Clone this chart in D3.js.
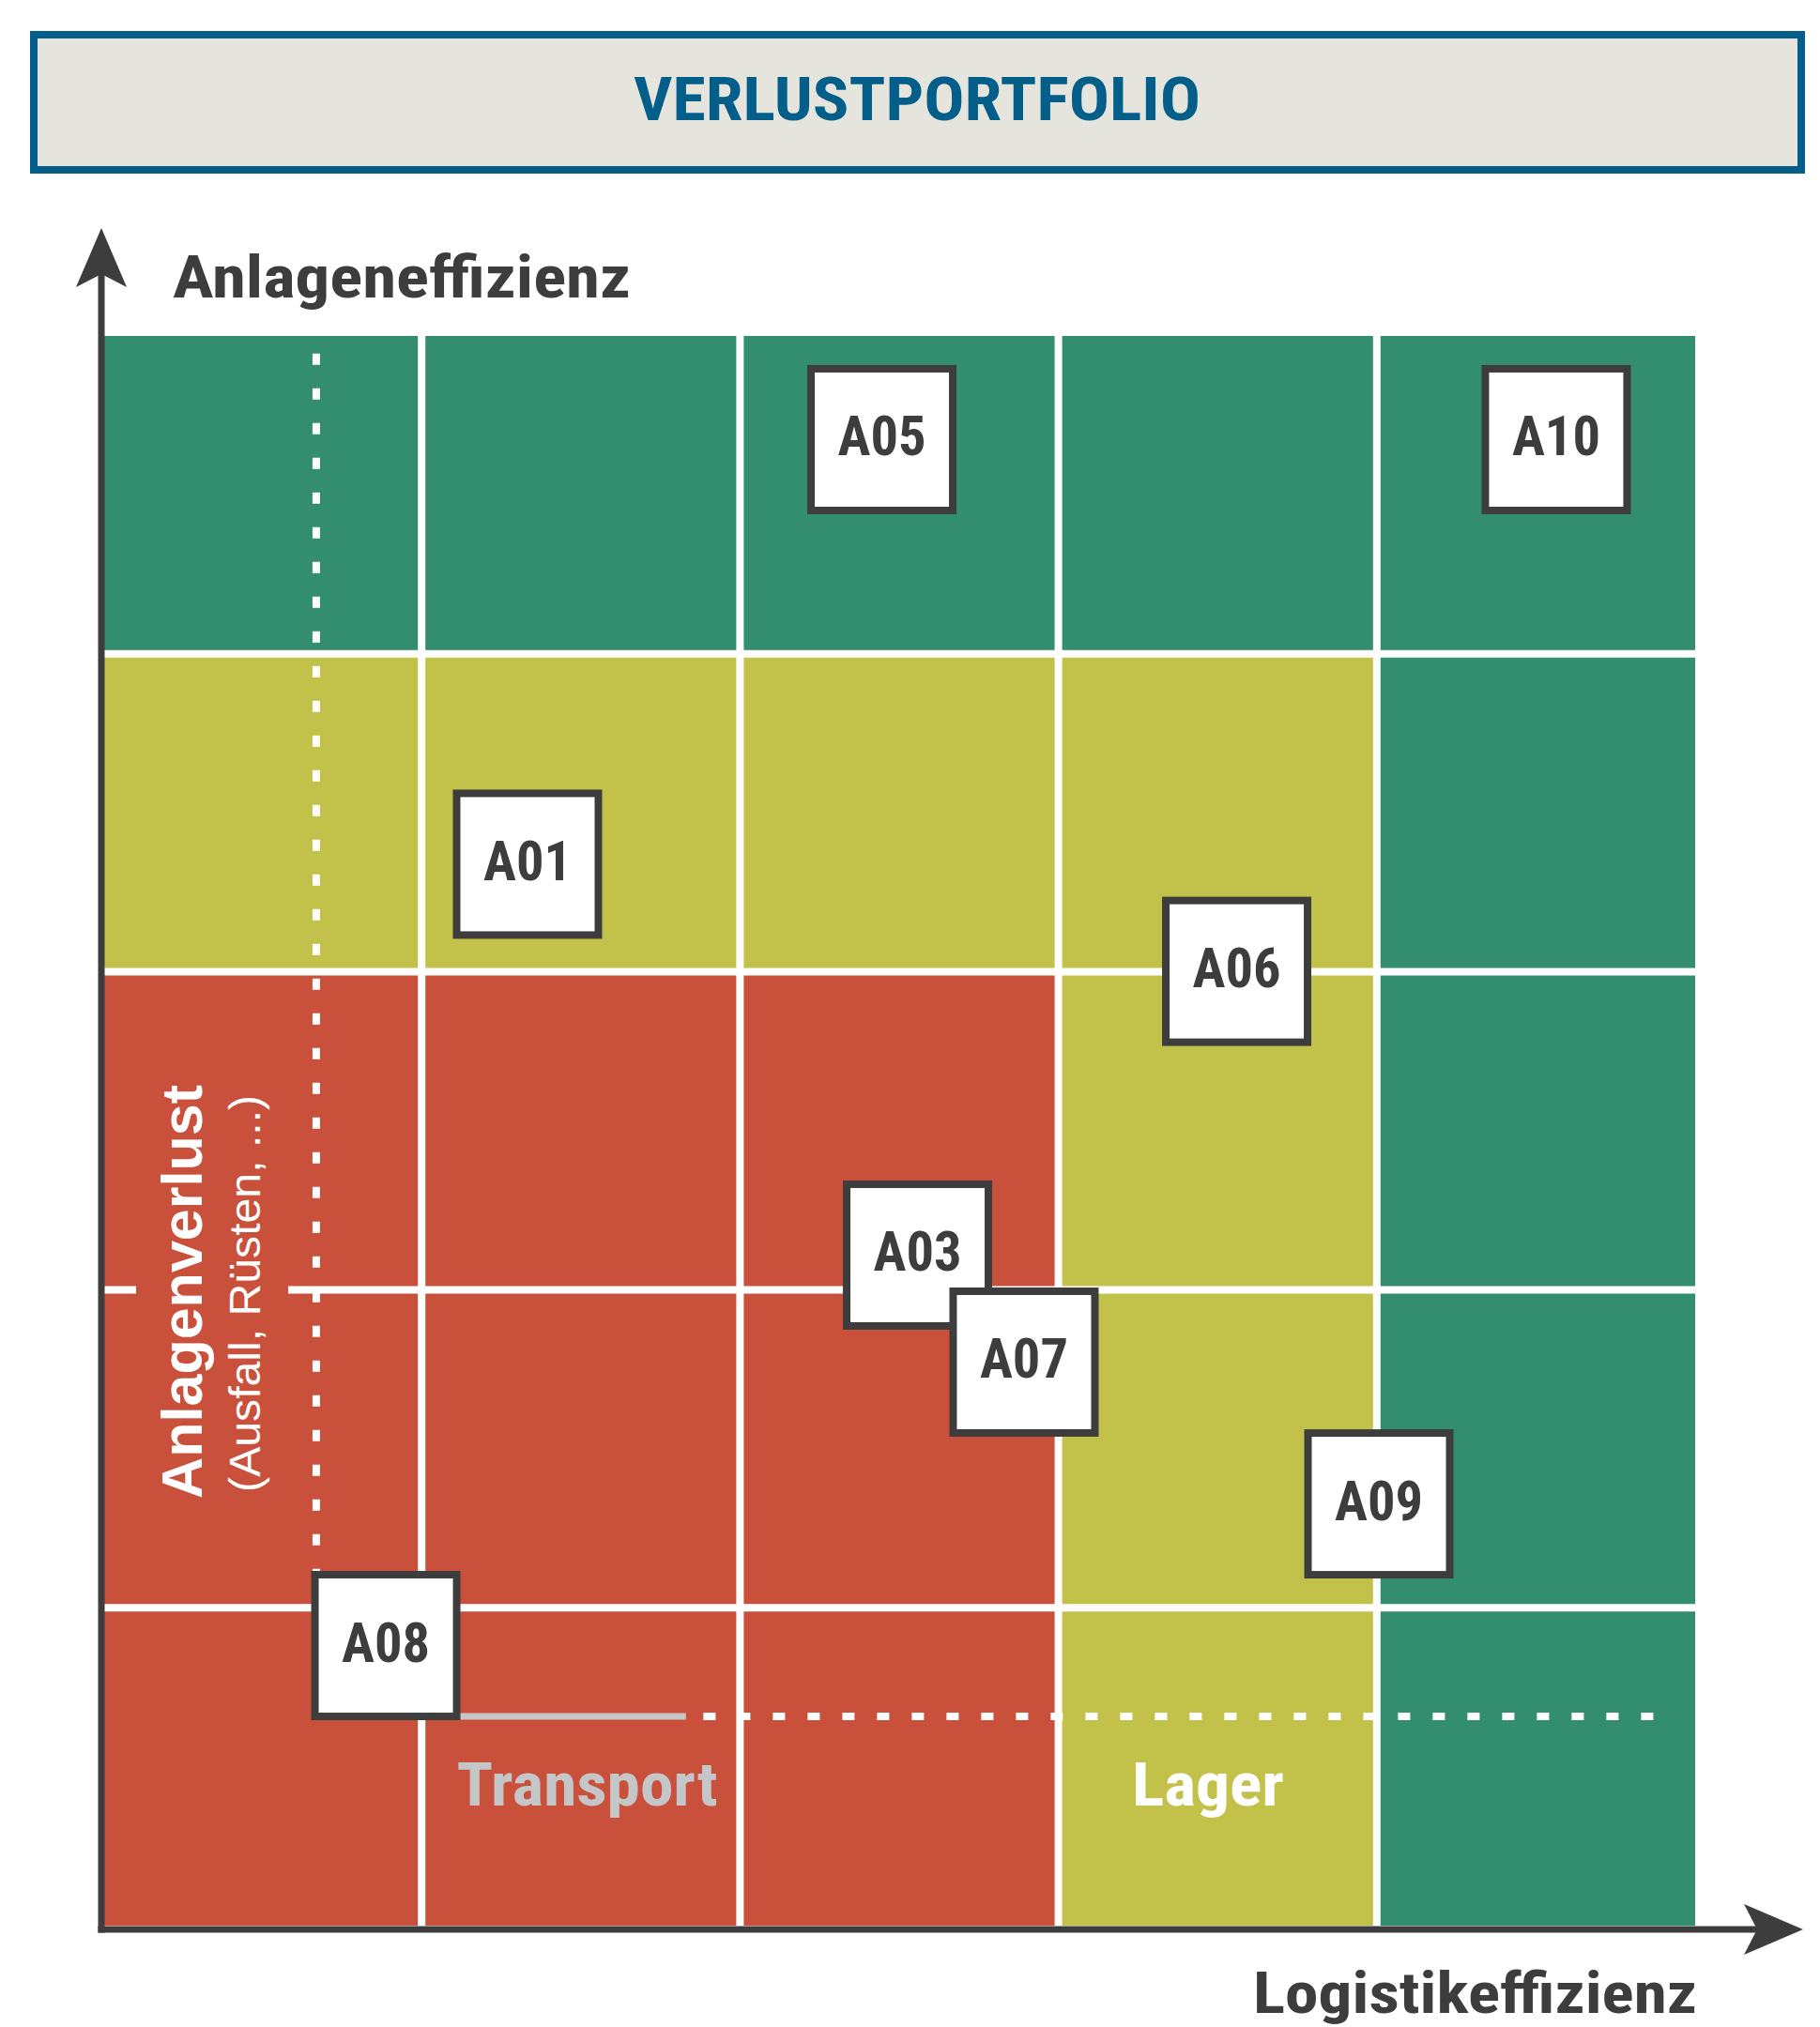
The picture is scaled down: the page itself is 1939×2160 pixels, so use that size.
<!DOCTYPE html>
<html>
<head>
<meta charset="utf-8">
<script src="https://cdn.jsdelivr.net/npm/d3@7"></script>
<style>
  html, body { margin: 0; padding: 0; background: #ffffff; }
  svg { display: block; }
</style>
</head>
<body>
<svg id="chart" width="1939" height="2160"></svg>
<script>
// ---------------- DATA ----------------
const chartTitle = "VERLUSTPORTFOLIO";
const xAxisTitle = "Logistikeffizienz";
const yAxisTitle = "Anlageneffizienz";
const yLossLabel = "Anlagenverlust";
const yLossSub = "(Ausfall, Rüsten, ...)";
const xLossLabels = ["Transport", "Lager"];
const xLossLabelPos = [30.4, 69.4];       // Logistikeffizienz (%) where each label is centred

// Zone boundaries (both axes, %)
const zoneBounds = [0, 20, 40, 60, 80, 100];
// Zone matrix, rows from top (high Anlageneffizienz) to bottom; 2 = gut, 1 = mittel, 0 = kritisch
const zoneRows = [
  [2, 2, 2, 2, 2],
  [1, 1, 1, 1, 2],
  [0, 0, 0, 1, 2],
  [0, 0, 0, 1, 2],
  [0, 0, 0, 1, 2]
];

// Assets
const assetIds      = ["A01", "A03", "A05", "A06", "A07", "A08", "A09", "A10"];
const logistikEff   = [26.65, 51.15, 48.91, 71.20, 57.84, 17.75, 80.13, 91.27];
const anlagenEff    = [66.77, 42.18, 93.48, 60.03, 35.45, 17.62, 26.53, 93.48];

// Reference lines (%)
const refX = 13.38;            // vertical dotted line
const refY = 13.16;            // horizontal dotted line
const refVRange = [17.6, 98.9]; // vertical dotted extent (Anlageneffizienz)
const refHRange = [37.7, 97.9]; // horizontal dotted extent (Logistikeffizienz)
const transportBar = [22.4, 36.6]; // solid grey segment on the horizontal reference

// ---------------- STYLE ----------------
const zoneColor = d3.scaleOrdinal().domain([0, 1, 2]).range(["#c9503b", "#c2c24b", "#338d6f"]);
const dark = "#3d3d3d";
const blue = "#035f8a";
const greyTxt = "#c5c6c8";
const condensed = "'Liberation Sans Narrow', 'Roboto Condensed', 'DejaVu Sans Condensed', 'Liberation Sans', sans-serif";
const sans = "'Liberation Sans', Arial, sans-serif";

// ---------------- LAYOUT ----------------
const svg = d3.select("#chart");
const x = d3.scaleLinear().domain([0, 100]).range([110, 1806]);
const y = d3.scaleLinear().domain([0, 100]).range([2052, 358]);

svg.append("rect").attr("width", 1939).attr("height", 2160).attr("fill", "#ffffff");

// Title box
svg.append("rect")
  .attr("x", 36).attr("y", 37).attr("width", 1883).attr("height", 144)
  .attr("fill", "#e5e5de").attr("stroke", blue).attr("stroke-width", 8);
svg.append("text")
  .attr("x", 977 - 302).attr("y", 128)
  .attr("textLength", 604).attr("lengthAdjust", "spacingAndGlyphs")
  .attr("font-family", condensed).attr("font-weight", "bold").attr("font-size", 65)
  .attr("fill", blue).text(chartTitle);

// Zone cells
const cells = [];
zoneRows.forEach((row, ri) => row.forEach((lvl, ci) => {
  cells.push({ x0: zoneBounds[ci], x1: zoneBounds[ci + 1], y1: zoneBounds[5 - ri], y0: zoneBounds[4 - ri], lvl });
}));
svg.append("g").selectAll("rect").data(cells).join("rect")
  .attr("x", d => x(d.x0)).attr("width", d => x(d.x1) - x(d.x0))
  .attr("y", d => y(d.y1)).attr("height", d => y(d.y0) - y(d.y1))
  .attr("fill", d => zoneColor(d.lvl));

// White separators
const inner = zoneBounds.slice(1, -1);
const sep = svg.append("g").attr("stroke", "#ffffff").attr("stroke-width", 8);
sep.selectAll(".v").data(inner).join("line").attr("class", "v")
  .attr("x1", d => x(d)).attr("x2", d => x(d)).attr("y1", y(100)).attr("y2", y(0));
sep.selectAll(".h").data(inner).join("line").attr("class", "h")
  .attr("y1", d => y(d)).attr("y2", d => y(d)).attr("x1", x(0)).attr("x2", x(100));

// Anlagenverlust label (rotated) with background masking the separator
const lblCY = y(40) + 2;
svg.append("rect").attr("x", 145).attr("y", lblCY - 230).attr("width", 162).attr("height", 460)
  .attr("fill", zoneColor(0));
svg.append("text")
  .attr("transform", `translate(215,${lblCY}) rotate(-90)`)
  .attr("x", -220.5).attr("y", 0)
  .attr("textLength", 441).attr("lengthAdjust", "spacingAndGlyphs")
  .attr("font-family", sans).attr("font-weight", "bold").attr("font-size", 61)
  .attr("fill", "#ffffff").text(yLossLabel);
svg.append("text")
  .attr("transform", `translate(277,${lblCY + 2}) rotate(-90)`)
  .attr("x", -211.5).attr("y", 0)
  .attr("textLength", 423).attr("lengthAdjust", "spacingAndGlyphs")
  .attr("font-family", sans).attr("font-size", 46)
  .attr("fill", "#ffffff").text(yLossSub);

// Reference lines
svg.append("line")
  .attr("x1", x(refX)).attr("x2", x(refX)).attr("y1", y(refVRange[1])).attr("y2", y(refVRange[0]))
  .attr("stroke", "#ffffff").attr("stroke-width", 8).attr("stroke-dasharray", "12,25");
svg.append("line")
  .attr("x1", x(refHRange[0])).attr("x2", x(refHRange[1])).attr("y1", y(refY)).attr("y2", y(refY))
  .attr("stroke", "#ffffff").attr("stroke-width", 8).attr("stroke-dasharray", "13,24");
svg.append("line")
  .attr("x1", x(transportBar[0])).attr("x2", x(transportBar[1])).attr("y1", y(refY)).attr("y2", y(refY))
  .attr("stroke", greyTxt).attr("stroke-width", 7);

// Loss labels on x
const lossLens = [278, 162];
const lossCols = [greyTxt, "#ffffff"];
svg.append("g").selectAll("text").data(xLossLabels).join("text")
  .attr("x", (d, i) => x(xLossLabelPos[i]) - lossLens[i] / 2).attr("y", 1924)
  .attr("textLength", (d, i) => lossLens[i]).attr("lengthAdjust", "spacingAndGlyphs")
  .attr("font-family", condensed).attr("font-weight", "bold").attr("font-size", 64)
  .attr("fill", (d, i) => lossCols[i]).text(d => d);

// Asset boxes
const assets = assetIds.map((id, i) => ({ id, lx: logistikEff[i], ay: anlagenEff[i] }));
const box = svg.append("g").selectAll("g").data(assets).join("g")
  .attr("transform", d => `translate(${x(d.lx)},${y(d.ay)})`);
box.append("rect")
  .attr("x", -75.5).attr("y", -75.5).attr("width", 151).attr("height", 151)
  .attr("fill", "#ffffff").attr("stroke", dark).attr("stroke-width", 8);
box.append("text")
  .attr("x", -47).attr("y", 17)
  .attr("textLength", 94).attr("lengthAdjust", "spacingAndGlyphs")
  .attr("font-family", condensed).attr("font-weight", "bold").attr("font-size", 59)
  .attr("fill", dark).text(d => d.id);

// Axes
const ax = svg.append("g");
ax.append("line").attr("x1", 108).attr("x2", 108).attr("y1", 2059.5).attr("y2", 290)
  .attr("stroke", dark).attr("stroke-width", 7);
ax.append("path").attr("d", "M108,243 L135,306 L108,292 L81,306 Z").attr("fill", dark);
ax.append("line").attr("x1", 104.5).attr("x2", 1875).attr("y1", 2056).attr("y2", 2056)
  .attr("stroke", dark).attr("stroke-width", 7);
ax.append("path").attr("d", "M1921,2056 L1858,2083 L1872,2056 L1858,2029 Z").attr("fill", dark);

// Axis titles
svg.append("text").attr("x", 184).attr("y", 317)
  .attr("textLength", 488).attr("lengthAdjust", "spacingAndGlyphs")
  .attr("font-family", condensed).attr("font-weight", "bold").attr("font-size", 63)
  .attr("fill", dark).text(yAxisTitle);
svg.append("text").attr("x", 1335).attr("y", 2145)
  .attr("textLength", 473).attr("lengthAdjust", "spacingAndGlyphs")
  .attr("font-family", condensed).attr("font-weight", "bold").attr("font-size", 62)
  .attr("fill", dark).text(xAxisTitle);
</script>
</body>
</html>
